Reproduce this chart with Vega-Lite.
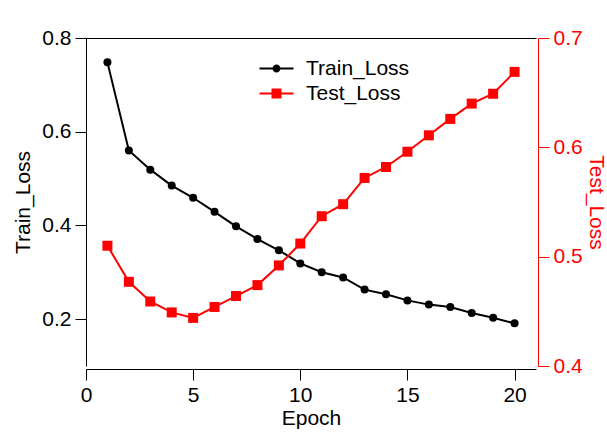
{
  "$schema": "https://vega.github.io/schema/vega-lite/v6.json",
  "width": 450,
  "height": 328,
  "autosize": "none",
  "padding": {"left": 86, "top": 38, "right": 71, "bottom": 67},
  "background": "white",
  "title": {"text": "Convergence Verification", "fontSize": 20, "font": "Liberation Sans", "fontWeight": "normal", "color": "black", "anchor": "middle", "dx": -13, "offset": 14, "baseline": "alphabetic"},
  "datasets": {
    "loss": [
      {"Epoch": 1, "Train_Loss": 0.748, "Test_Loss": 0.510},
      {"Epoch": 2, "Train_Loss": 0.560, "Test_Loss": 0.477},
      {"Epoch": 3, "Train_Loss": 0.519, "Test_Loss": 0.459},
      {"Epoch": 4, "Train_Loss": 0.485, "Test_Loss": 0.449},
      {"Epoch": 5, "Train_Loss": 0.459, "Test_Loss": 0.444},
      {"Epoch": 6, "Train_Loss": 0.429, "Test_Loss": 0.454},
      {"Epoch": 7, "Train_Loss": 0.398, "Test_Loss": 0.464},
      {"Epoch": 8, "Train_Loss": 0.371, "Test_Loss": 0.474},
      {"Epoch": 9, "Train_Loss": 0.347, "Test_Loss": 0.492},
      {"Epoch": 10, "Train_Loss": 0.319, "Test_Loss": 0.512},
      {"Epoch": 11, "Train_Loss": 0.300, "Test_Loss": 0.537},
      {"Epoch": 12, "Train_Loss": 0.289, "Test_Loss": 0.548},
      {"Epoch": 13, "Train_Loss": 0.263, "Test_Loss": 0.572},
      {"Epoch": 14, "Train_Loss": 0.253, "Test_Loss": 0.582},
      {"Epoch": 15, "Train_Loss": 0.240, "Test_Loss": 0.596},
      {"Epoch": 16, "Train_Loss": 0.231, "Test_Loss": 0.611},
      {"Epoch": 17, "Train_Loss": 0.226, "Test_Loss": 0.626},
      {"Epoch": 18, "Train_Loss": 0.213, "Test_Loss": 0.640},
      {"Epoch": 19, "Train_Loss": 0.203, "Test_Loss": 0.649},
      {"Epoch": 20, "Train_Loss": 0.191, "Test_Loss": 0.669}
    ],
    "series": [
      {"Series": "Train_Loss"},
      {"Series": "Test_Loss"}
    ]
  },
  "config": {
    "view": {"stroke": null},
    "font": "Liberation Sans",
    "axis": {
      "grid": false,
      "labelFont": "Liberation Sans",
      "titleFont": "Liberation Sans",
      "labelFontSize": 21,
      "titleFontSize": 21,
      "titleFontWeight": "normal",
      "tickSize": 11,
      "labelPadding": 4,
      "domainWidth": 1,
      "tickWidth": 1
    }
  },
  "layer": [
    {
      "data": {"name": "loss"},
      "encoding": {
        "x": {
          "field": "Epoch", "type": "quantitative",
          "scale": {"domain": [0, 21], "nice": false, "zero": false},
          "axis": {"orient": "bottom", "values": [0, 5, 10, 15, 20], "title": "Epoch", "offset": 3, "domainColor": "black", "tickColor": "black", "labelColor": "black", "titleColor": "black", "titlePadding": 2, "labelFlush": false}
        },
        "y": {
          "field": "Train_Loss", "type": "quantitative",
          "scale": {"domain": [0.1, 0.8], "nice": false, "zero": false},
          "axis": {"orient": "left", "values": [0.2, 0.4, 0.6, 0.8], "format": ".1f", "title": "Train_Loss", "titlePadding": 8, "domainColor": "black", "tickColor": "black", "labelColor": "black", "titleColor": "black"}
        }
      },
      "layer": [
        {"mark": {"type": "line", "color": "black", "strokeWidth": 2}},
        {"mark": {"type": "point", "shape": "circle", "filled": true, "color": "black", "size": 64, "opacity": 1}}
      ]
    },
    {
      "data": {"name": "loss"},
      "encoding": {
        "x": {
          "field": "Epoch", "type": "quantitative",
          "scale": {"domain": [0, 21], "nice": false, "zero": false},
          "axis": {"orient": "top", "labels": false, "ticks": false, "title": null, "domainColor": "black"}
        },
        "y": {
          "field": "Test_Loss", "type": "quantitative",
          "scale": {"domain": [0.4, 0.7], "nice": false, "zero": false},
          "axis": {"orient": "right", "values": [0.4, 0.5, 0.6, 0.7], "format": ".1f", "title": "Test_Loss", "offset": 2, "titlePadding": 3, "domainColor": "#ff0000", "tickColor": "#ff0000", "labelColor": "#ff0000", "titleColor": "#ff0000"}
        }
      },
      "layer": [
        {"mark": {"type": "line", "color": "#ff0000", "strokeWidth": 2}},
        {"mark": {"type": "point", "shape": "square", "filled": true, "color": "#ff0000", "size": 100, "opacity": 1}}
      ]
    },
    {
      "data": {"name": "series"},
      "transform": [{"filter": "false"}],
      "mark": {"type": "point", "filled": true, "opacity": 1},
      "encoding": {
        "color": {
          "field": "Series", "type": "nominal",
          "scale": {"domain": ["Train_Loss", "Test_Loss"], "range": ["black", "#ff0000"]},
          "legend": {"title": null, "orient": "none", "legendX": 180, "legendY": 20, "padding": 0, "labelFontSize": 21, "labelFont": "Liberation Sans", "labelColor": "black", "symbolSize": 100, "symbolStrokeWidth": 0, "labelOffset": 19, "rowPadding": 3}
        },
        "shape": {
          "field": "Series", "type": "nominal",
          "scale": {"domain": ["Train_Loss", "Test_Loss"], "range": ["M-3.4,-0.2H3.4V0.2H-3.4Z M-0.8,0A0.8,0.8 0 1,1 0.8,0A0.8,0.8 0 1,1 -0.8,0Z", "M-3.4,-0.2H3.4V0.2H-3.4Z M-1,-1H1V1H-1Z"]},
          "legend": {"title": null, "orient": "none", "legendX": 180, "legendY": 20, "padding": 0, "labelFontSize": 21, "labelFont": "Liberation Sans", "labelColor": "black", "symbolSize": 100, "symbolStrokeWidth": 0, "labelOffset": 19, "rowPadding": 3}
        }
      }
    }
  ],
  "resolve": {"scale": {"y": "independent"}, "axis": {"x": "independent"}}
}
